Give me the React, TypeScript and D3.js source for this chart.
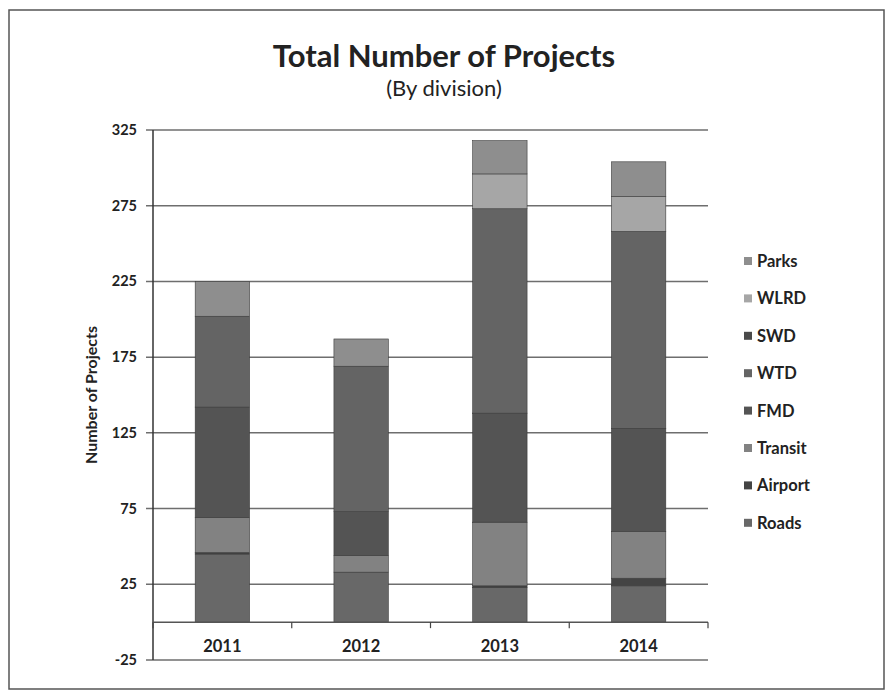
import React from "react";
import * as d3 from "d3";

const years = ["2011", "2012", "2013", "2014"];
const seriesNames = ["Roads", "Airport", "Transit", "FMD", "WTD", "SWD", "WLRD", "Parks"];
const roads = [45, 33, 23, 24];
const airport = [1, 0, 1, 5];
const transit = [23, 11, 42, 31];
const fmd = [73, 29, 72, 68];
const wtd = [60, 96, 135, 130];
const swd = [0, 0, 0, 0];
const wlrd = [0, 0, 23, 23];
const parks = [23, 18, 22, 23];
const yTicks = [-25, 25, 75, 125, 175, 225, 275, 325];
const colors = ["#686868", "#444444", "#828282", "#545454", "#646464", "#4a4a4a", "#a6a6a6", "#8e8e8e"];

const W = 887;
const H = 694;
const FONT = "Lato, 'Open Sans', sans-serif";

export default function App() {
  const seriesValues = [roads, airport, transit, fmd, wtd, swd, wlrd, parks];
  const rows = years.map((yr, i) => {
    const r: any = { year: yr };
    seriesNames.forEach((s, k) => (r[s] = seriesValues[k][i]));
    return r;
  });
  const stack = d3.stack<any>().keys(seriesNames)(rows);

  const plotL = 153;
  const plotR = 708;
  const y = d3.scaleLinear().domain([-25, 325]).range([660, 130]);
  const x = d3.scaleBand().domain(years).range([plotL, plotR]).paddingInner(0.608).paddingOuter(0.304);
  const bandStep = (plotR - plotL) / years.length;

  const legendOrder = [...seriesNames].reverse();

  return (
    <svg width={W} height={H} style={{ display: "block", position: "absolute", left: 0, top: 0 }}>
      <rect x={0} y={0} width={W} height={H} fill="#ffffff" />
      <rect x={9} y={10} width={875} height={679} fill="none" stroke="#555" strokeWidth={1.5} />
      <text x={444} y={67} textAnchor="middle" fontFamily={FONT} fontWeight="bold" fontSize={31} fill="#222">
        Total Number of Projects
      </text>
      <text x={444} y={96} textAnchor="middle" fontFamily={FONT} fontSize={22} fill="#222">
        (By division)
      </text>

      {yTicks.map((t) => (
        <g key={t}>
          <line x1={plotL - 7} x2={plotR} y1={y(t)} y2={y(t)} stroke="#6e6e6e" strokeWidth={1.5} />
          <text x={137} y={y(t) + 5} textAnchor="end" fontFamily={FONT} fontWeight="bold" fontSize={14.5} fill="#222">
            {t}
          </text>
        </g>
      ))}

      {stack.map((layer, k) => (
        <g key={layer.key}>
          {layer.map((d, i) => {
            const h = y(d[0]) - y(d[1]);
            if (h <= 0) return null;
            return (
              <rect
                key={i}
                x={x(years[i])}
                y={y(d[1])}
                width={x.bandwidth()}
                height={h}
                fill={colors[k]}
                stroke="#3a3a3a"
                strokeWidth={0.6}
              />
            );
          })}
        </g>
      ))}

      <line x1={plotL} x2={plotL} y1={y(325)} y2={y(-25)} stroke="#333" strokeWidth={1.5} />
      <line x1={plotL} x2={plotR} y1={y(0)} y2={y(0)} stroke="#555" strokeWidth={1.5} />
      {d3.range(years.length + 1).map((i) => (
        <line key={i} x1={plotL + i * bandStep} x2={plotL + i * bandStep} y1={y(0)} y2={y(0) + 6} stroke="#444" strokeWidth={1.2} />
      ))}
      {years.map((yr) => (
        <text key={yr} x={(x(yr) as number) + x.bandwidth() / 2} y={652} textAnchor="middle" fontFamily={FONT} fontWeight="bold" fontSize={16.5} fill="#222">
          {yr}
        </text>
      ))}

      <text
        transform={`translate(97, 395) rotate(-90)`}
        textAnchor="middle"
        fontFamily={FONT}
        fontWeight="bold"
        fontSize={16}
        fill="#222"
      >
        Number of Projects
      </text>

      {legendOrder.map((s, i) => {
        const k = seriesNames.indexOf(s);
        const ly = 262 + i * 37.4;
        return (
          <g key={s}>
            <rect x={744} y={ly - 5} width={8} height={8} fill={colors[k]} />
            <text x={757} y={ly + 5} fontFamily={FONT} fontWeight="bold" fontSize={16.5} fill="#222">
              {s}
            </text>
          </g>
        );
      })}
    </svg>
  );
}
